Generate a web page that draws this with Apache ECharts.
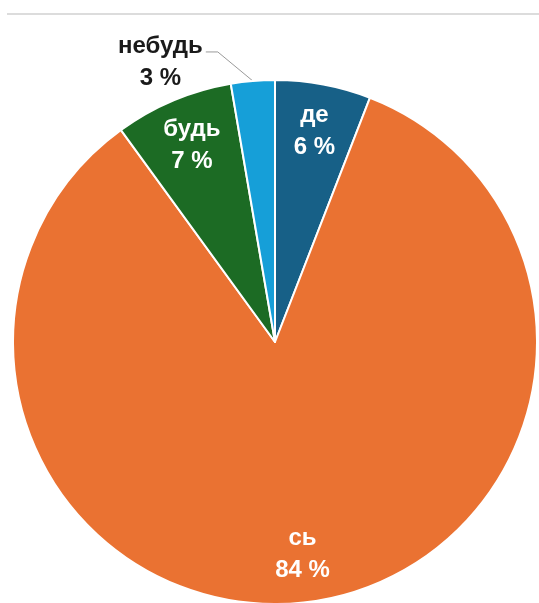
<!DOCTYPE html>
<html>
<head>
<meta charset="utf-8">
<script src="https://cdn.jsdelivr.net/npm/echarts/dist/echarts.min.js"></script>
<style>
	html,body{margin:0;padding:0;background:#fff;}
	#pieChart{width:539px;height:603px;}
</style>
</head>
<body>
<div id="pieChart"></div>
<script>
	// дані
	const categories = ['де', 'сь', 'будь', 'небудь'];
	const values = [5.9, 84.1, 7.3, 2.7];
	const colors = ['#176087', '#ea7232', '#1c6b24', '#169fd8'];

	const R = 262;
	const fontFamily = '"Liberation Sans", Arial, sans-serif';

	const pieData = categories.map((name, i) => ({
		name: name,
		value: values[i],
		itemStyle: {color: colors[i]}
	}));

	// прозоре кільце тільки для підписів (щоб підписи стояли ближче до краю)
	const labelData = categories.map((name, i) => {
		let item = {name: name, value: values[i]};
		if (i === categories.length - 1) {
			item.label = {
				position: 'outside',
				formatter: '{c|{b}}\n{c|{d} %}',
				rich: {
					c: {
						align: 'center',
						color: '#1a1a1a',
						fontFamily: fontFamily,
						fontWeight: 'bold',
						fontSize: 24,
						lineHeight: 32
					}
				}
			};
			item.labelLine = {show: true};
		}
		return item;
	});

	const myChart = echarts.init(document.getElementById('pieChart'));
	const option = {
		animation: false,
		backgroundColor: '#fff',
		graphic: [{
			type: 'rect',
			left: 7,
			top: 13,
			shape: {width: 532, height: 2},
			style: {fill: '#dcdcdc'},
			silent: true
		}],
		series: [{
			type: 'pie',
			center: [275, 342],
			radius: [0, R],
			startAngle: 90,
			clockwise: true,
			silent: true,
			label: {show: false},
			labelLine: {show: false},
			itemStyle: {borderColor: '#fff', borderWidth: 2},
			data: pieData
		}, {
			type: 'pie',
			center: [275, 342],
			radius: [R * 0.61, R],
			startAngle: 90,
			clockwise: true,
			silent: true,
			percentPrecision: 0,
			avoidLabelOverlap: false,
			itemStyle: {color: 'rgba(0,0,0,0)', borderWidth: 0},
			label: {
				show: true,
				position: 'inside',
				formatter: '{b}\n{d} %',
				color: '#fff',
				fontFamily: fontFamily,
				fontWeight: 'bold',
				fontSize: 24,
				lineHeight: 32,
				align: 'center'
			},
			labelLine: {show: false, lineStyle: {color: '#9a9a9a', width: 1}},
			labelLayout: function(params) {
				if (params.dataIndex !== categories.length - 1 || !params.labelLinePoints) return {};
				let p0 = params.labelLinePoints[0];
				let p1 = [p0[0] - 35, p0[1] - 29];
				let p2 = [p1[0] - 12, p1[1]];
				return {
					x: p2[0] - 3,
					y: p2[1] + 10,
					align: 'right',
					verticalAlign: 'middle',
					labelLinePoints: [p0, p1, p2]
				};
			},
			data: labelData
		}]
	};
	myChart.setOption(option);
</script>
</body>
</html>
